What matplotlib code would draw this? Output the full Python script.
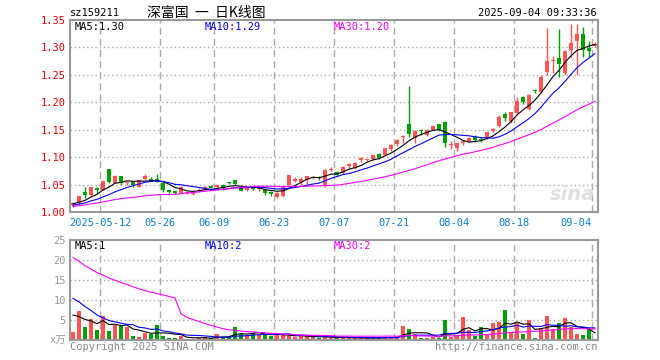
import numpy as np
import pandas as pd
import matplotlib
matplotlib.use('Agg')
import matplotlib.pyplot as plt

# daily candles 2025-04-30 .. 2025-09-04
opens = [1.012, 1.017, 1.037, 1.031, 1.043, 1.041, 1.078, 1.053, 1.066, 1.052,
         1.054, 1.046, 1.061, 1.061, 1.060, 1.053, 1.040, 1.038, 1.035, 1.034,
         1.033, 1.038, 1.043, 1.048, 1.045, 1.050, 1.054, 1.058, 1.046, 1.040,
         1.046, 1.042, 1.040, 1.037, 1.028, 1.029, 1.049, 1.057, 1.055, 1.058,
         1.062, 1.063, 1.047, 1.076, 1.073, 1.071, 1.083, 1.080, 1.094, 1.094,
         1.096, 1.106, 1.104, 1.114, 1.124, 1.136, 1.161, 1.134, 1.150, 1.140,
         1.150, 1.160, 1.164, 1.122, 1.116, 1.125, 1.129, 1.136, 1.132, 1.134,
         1.148, 1.156, 1.178, 1.165, 1.180, 1.209, 1.188, 1.222, 1.218, 1.255,
         1.275, 1.281, 1.254, 1.295, 1.311, 1.324, 1.299, 1.303]
highs = [1.018, 1.030, 1.046, 1.046, 1.045, 1.057, 1.078, 1.067, 1.066, 1.057,
         1.056, 1.059, 1.069, 1.064, 1.070, 1.054, 1.041, 1.039, 1.047, 1.037,
         1.037, 1.043, 1.047, 1.049, 1.051, 1.051, 1.055, 1.059, 1.047, 1.044,
         1.047, 1.047, 1.041, 1.038, 1.036, 1.047, 1.068, 1.063, 1.063, 1.066,
         1.066, 1.065, 1.078, 1.082, 1.074, 1.083, 1.089, 1.091, 1.100, 1.097,
         1.106, 1.107, 1.117, 1.124, 1.133, 1.140, 1.230, 1.150, 1.151, 1.151,
         1.158, 1.161, 1.165, 1.129, 1.126, 1.131, 1.136, 1.140, 1.136, 1.146,
         1.154, 1.176, 1.183, 1.183, 1.209, 1.211, 1.215, 1.225, 1.250, 1.335,
         1.284, 1.333, 1.295, 1.342, 1.342, 1.338, 1.311, 1.309]
lows = [1.010, 1.015, 1.025, 1.030, 1.034, 1.040, 1.052, 1.052, 1.050, 1.050,
        1.046, 1.045, 1.059, 1.056, 1.054, 1.037, 1.031, 1.032, 1.034, 1.032,
        1.031, 1.036, 1.040, 1.043, 1.043, 1.040, 1.051, 1.050, 1.038, 1.038,
        1.040, 1.039, 1.031, 1.030, 1.025, 1.028, 1.048, 1.055, 1.050, 1.051,
        1.060, 1.059, 1.046, 1.074, 1.066, 1.070, 1.080, 1.079, 1.091, 1.092,
        1.095, 1.097, 1.103, 1.112, 1.121, 1.125, 1.136, 1.126, 1.140, 1.138,
        1.149, 1.147, 1.119, 1.115, 1.112, 1.122, 1.127, 1.127, 1.127, 1.133,
        1.146, 1.155, 1.165, 1.163, 1.178, 1.196, 1.186, 1.217, 1.217, 1.250,
        1.253, 1.246, 1.250, 1.280, 1.250, 1.282, 1.282, 1.300]
closes = [1.016, 1.029, 1.031, 1.045, 1.040, 1.056, 1.055, 1.066, 1.053, 1.055,
          1.050, 1.058, 1.065, 1.058, 1.055, 1.040, 1.036, 1.034, 1.046, 1.036,
          1.036, 1.041, 1.045, 1.044, 1.049, 1.044, 1.052, 1.051, 1.039, 1.043,
          1.042, 1.046, 1.034, 1.032, 1.035, 1.046, 1.067, 1.061, 1.060, 1.065,
          1.064, 1.062, 1.076, 1.078, 1.067, 1.082, 1.087, 1.090, 1.098, 1.096,
          1.104, 1.098, 1.116, 1.122, 1.131, 1.139, 1.142, 1.148, 1.147, 1.150,
          1.157, 1.150, 1.125, 1.124, 1.125, 1.129, 1.134, 1.131, 1.131, 1.145,
          1.152, 1.174, 1.172, 1.182, 1.203, 1.200, 1.214, 1.221, 1.247, 1.276,
          1.277, 1.270, 1.293, 1.308, 1.325, 1.295, 1.293, 1.307]
# volume in 万
volumes = [2.1, 7.25, 3.3, 5.25, 2.5, 6.0, 2.25, 3.75, 3.5, 3.3,
           1.0, 0.8, 1.8, 1.5, 3.75, 1.0, 0.4, 0.6, 1.1, 0.35,
           0.35, 0.4, 0.7, 0.4, 1.6, 0.7, 0.7, 3.3, 1.6, 1.1,
           1.7, 1.5, 1.5, 0.9, 1.5, 1.2, 0.9, 0.8, 1.0, 0.9,
           0.7, 0.6, 0.8, 0.5, 0.7, 0.5, 0.5, 0.5, 0.5, 0.5,
           0.5, 0.7, 0.7, 0.7, 0.7, 3.5, 2.75, 1.5, 0.6, 0.5,
           0.7, 0.5, 5.0, 0.7, 1.3, 5.8, 2.6, 1.0, 3.3, 1.5,
           4.2, 4.5, 7.5, 2.1, 4.2, 1.5, 4.9, 0.6, 2.9, 6.0,
           2.7, 4.2, 5.4, 3.2, 1.5, 1.2, 2.7, 0.3]
# days before the window (since listing), only used by the moving averages
pre_closes = [1.000, 1.003, 1.006, 1.008, 1.010, 1.009, 1.011, 1.012, 1.013, 1.015, 1.014, 1.016]
pre_volumes = [120, 28, 16, 16, 15, 15, 14, 13, 9, 7, 7, 6]

tick_idx = [5, 15, 24, 34, 44, 54, 64, 74, 87]
tick_labels = ['2025-05-12', '05-26', '06-09', '06-23', '07-07', '07-21', '08-04', '08-18', '09-04']

RED = '#ff5454'
GREEN = '#00a000'
GRID = '#aaaaaa'
MONO = ['DejaVu Sans Mono', 'Noto Sans CJK SC']

n = len(closes)
x = np.arange(n)
o = np.array(opens); h = np.array(highs); l = np.array(lows); c = np.array(closes)
colors = [RED if c[i] >= o[i] else GREEN for i in range(n)]

cs = pd.Series(pre_closes + closes)
vs = pd.Series(pre_volumes + volumes)
k = len(pre_closes)
ma = {m: cs.rolling(m, min_periods=1).mean().values[k:] for m in (5, 10, 30)}
vma = {m: vs.rolling(m, min_periods=1).mean().values[k:] for m in (5, 10, 30)}
ma_colors = {5: 'black', 10: '#0000ff', 30: '#ff00ff'}

fig = plt.figure(figsize=(6.6, 3.6), dpi=100)
W, H = 660, 360
ax = fig.add_axes([70 / W, 1 - 212 / H, 528 / W, 192 / H])
axv = fig.add_axes([70 / W, 1 - 340 / H, 528 / W, 100 / H])

for a in (ax, axv):
    a.set_xlim(-0.5, n - 0.5)
    for s in a.spines.values():
        s.set_color('#999999')
        s.set_linewidth(1.5)
    for t in tick_idx:
        a.axvline(t - 0.5, color=GRID, lw=1, ls=(0, (5, 3)), zorder=0)

# price panel
ax.set_ylim(1.00, 1.35)
for yv in [1.05, 1.10, 1.15, 1.20, 1.25, 1.30]:
    ax.axhline(yv, color=GRID, lw=1, ls=(0, (1, 2)), zorder=0)
body_lo = np.minimum(o, c)
body_h = np.maximum(np.abs(c - o), 0.0015)
ax.vlines(x, l, h, colors=colors, lw=1, zorder=2)
ax.bar(x, body_h, bottom=body_lo, width=0.75, color=colors, zorder=3)
for m in (5, 10, 30):
    ax.plot(x, ma[m], color=ma_colors[m], lw=0.8, zorder=4)
ax.set_yticks([1.00, 1.05, 1.10, 1.15, 1.20, 1.25, 1.30, 1.35])
ax.set_yticklabels(['%.2f' % v for v in ax.get_yticks()], family=MONO)
ax.tick_params(axis='y', length=0, pad=3, labelcolor='#ee0000', labelsize=7.5)
ax.set_xticks([t - 0.5 for t in tick_idx])
ax.set_xticklabels(tick_labels, family=MONO)
ax.tick_params(axis='x', length=0, pad=4, labelcolor='#0a7fd0', labelsize=7.5)
ax.get_xticklabels()[-1].set_ha('right')
ax.text(0.995, 0.09, 'sina', transform=ax.transAxes, ha='right', va='center',
        fontsize=14, fontweight='bold', style='italic', color='#e0e0e0', zorder=1)

# volume panel
axv.set_ylim(0, 25)
for yv in [5, 10, 15, 20]:
    axv.axhline(yv, color=GRID, lw=1, ls=(0, (1, 2)), zorder=0)
axv.bar(x, volumes, width=0.8, color=colors, zorder=2)
for m in (5, 10, 30):
    axv.plot(x, vma[m], color=ma_colors[m], lw=0.8, zorder=3)
axv.set_yticks([0, 5, 10, 15, 20, 25])
axv.set_yticklabels(['x万', '5', '10', '15', '20', '25'], family=MONO)
axv.tick_params(axis='y', length=0, pad=3, labelcolor='#999999', labelsize=7.5)
axv.set_xticks([])

def ftext(px, py, s, **kw):
    kw.setdefault('family', MONO)
    kw.setdefault('fontsize', 7.5)
    fig.text(px / W, 1 - py / H, s, va='center', **kw)

ftext(70, 13, 'sz159211')
ftext(206, 13, '深富国  一  日K线图', ha='center', fontsize=10,
      family=['Noto Sans CJK SC', 'DejaVu Sans'])
ftext(597, 13, '2025-09-04 09:33:36', ha='right')
ftext(75, 27, 'MA5:1.30', color='black')
ftext(205, 27, 'MA10:1.29', color='#0000ff')
ftext(334, 27, 'MA30:1.20', color='#ff00ff')
ftext(75, 246, 'MA5:1', color='black')
ftext(205, 246, 'MA10:2', color='#0000ff')
ftext(334, 246, 'MA30:2', color='#ff00ff')
ftext(70, 347, 'Copyright 2025 SINA.COM', color='#888888')
ftext(597, 347, 'http://finance.sina.com.cn', ha='right', color='#888888')

fig.savefig('out.png', dpi=100)
